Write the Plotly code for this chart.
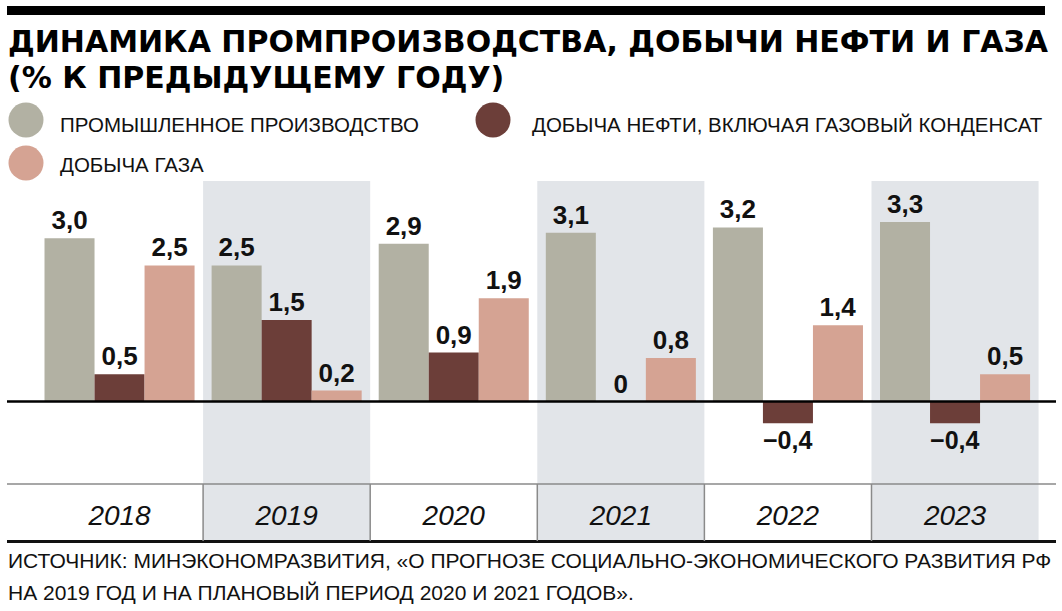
import plotly.graph_objects as go

# ---- data ----
years = ["2018", "2019", "2020", "2021", "2022", "2023"]
industry = [3.0, 2.5, 2.9, 3.1, 3.2, 3.3]
oil = [0.5, 1.5, 0.9, 0.0, -0.4, -0.4]
gas = [2.5, 0.2, 1.9, 0.8, 1.4, 0.5]
series_names = ["ПРОМЫШЛЕННОЕ ПРОИЗВОДСТВО",
                "ДОБЫЧА НЕФТИ, ВКЛЮЧАЯ ГАЗОВЫЙ КОНДЕНСАТ",
                "ДОБЫЧА ГАЗА"]
title_lines = ["ДИНАМИКА ПРОМПРОИЗВОДСТВА, ДОБЫЧИ НЕФТИ И ГАЗА",
               "(% К ПРЕДЫДУЩЕМУ ГОДУ)"]
source_lines = ["ИСТОЧНИК: МИНЭКОНОМРАЗВИТИЯ, «О ПРОГНОЗЕ СОЦИАЛЬНО-ЭКОНОМИЧЕСКОГО РАЗВИТИЯ РФ",
                "НА 2019 ГОД И НА ПЛАНОВЫЙ ПЕРИОД 2020 И 2021 ГОДОВ»."]
shaded_years = ["2019", "2021", "2023"]

# ---- style ----
W, H = 1062, 611
colors = ["#b2b1a3", "#6c3e39", "#d5a393"]
shade = "#e2e5e9"
ink = "#111111"
label_font = dict(family="Liberation Sans, Arial, sans-serif", size=26, color=ink, weight="bold")


def fmt(v):
    if v == 0:
        return "0"
    s = f"{abs(v):.1f}".replace(".", ",")
    return ("\u2212" + s) if v < 0 else s


def px_x(p):
    return p / W


def px_y(p):
    return 1 - p / H


fig = go.Figure()
for name, vals, col in zip(series_names, [industry, oil, gas], colors):
    fig.add_trace(go.Bar(
        x=years, y=vals, name=name, marker=dict(color=col, line=dict(width=0)),
        text=[fmt(v) for v in vals], textposition="outside", textfont=label_font,
        cliponaxis=False, showlegend=False, hoverinfo="skip",
    ))

# year labels inside the bottom band
YEAR_LABEL_Y = -2.15
fig.add_trace(go.Scatter(
    x=years, y=[YEAR_LABEL_Y] * len(years), mode="text", text=years,
    textfont=dict(family="Liberation Sans, Arial, sans-serif", size=28, color=ink, style="italic"),
    showlegend=False, hoverinfo="skip", cliponaxis=False,
))

shapes = []
# shaded columns
for y in shaded_years:
    i = years.index(y)
    shapes.append(dict(type="rect", xref="x", yref="paper", x0=i - 0.5, x1=i + 0.5,
                       y0=px_y(541), y1=px_y(181), fillcolor=shade, line_width=0, layer="below"))
# top black bar
shapes.append(dict(type="rect", xref="paper", yref="paper", x0=px_x(7), x1=px_x(1045),
                   y0=px_y(15), y1=px_y(6), fillcolor="#000000", line_width=0))
# zero line
shapes.append(dict(type="line", xref="paper", yref="y", x0=px_x(7), x1=px_x(1056), y0=0, y1=0,
                   line=dict(color="#000000", width=2.5)))
# thin line above year band
shapes.append(dict(type="line", xref="paper", yref="paper", x0=px_x(7), x1=px_x(1056),
                   y0=px_y(484), y1=px_y(484), line=dict(color="#8a8a8a", width=1.5)))
# thick bottom line
shapes.append(dict(type="line", xref="paper", yref="paper", x0=px_x(7), x1=px_x(1056),
                   y0=px_y(541.5), y1=px_y(541.5), line=dict(color="#111111", width=3)))
# separators in year band
for i in range(len(years) - 1):
    shapes.append(dict(type="line", xref="x", yref="paper", x0=i + 0.5, x1=i + 0.5,
                       y0=px_y(541), y1=px_y(484), line=dict(color="#8a8a8a", width=1.5)))

# custom legend (circles + text)
legend_pos = [(26, 120, 58, 124), (493, 120, 530, 124), (26, 163, 58, 165)]
annotations = []
for (cx, cy, tx, ty), name, col in zip(legend_pos, series_names, colors):
    shapes.append(dict(type="circle", xref="paper", yref="paper", xsizemode="pixel", ysizemode="pixel",
                       xanchor=px_x(cx), yanchor=px_y(cy), x0=-17.5, x1=17.5, y0=-17.5, y1=17.5,
                       fillcolor=col, line_width=0))
    annotations.append(dict(xref="paper", yref="paper", x=px_x(tx), y=px_y(ty), xanchor="left",
                            yanchor="middle", showarrow=False, text=name,
                            font=dict(family="Liberation Sans, Arial, sans-serif", size=20.5, color=ink)))

# title
for txt, yy in zip(title_lines, [41, 77]):
    annotations.append(dict(xref="paper", yref="paper", x=px_x(6), y=px_y(yy), xanchor="left",
                            yanchor="middle", showarrow=False, text=txt,
                            font=dict(family="DejaVu Sans", size=30, color="#000000", weight="bold")))
# source
for txt, yy in zip(source_lines, [560, 592]):
    annotations.append(dict(xref="paper", yref="paper", x=px_x(6), y=px_y(yy), xanchor="left",
                            yanchor="middle", showarrow=False, text=txt,
                            font=dict(family="Liberation Sans, Arial, sans-serif", size=21, color=ink)))

fig.update_layout(
    width=W, height=H, margin=dict(l=0, r=0, t=0, b=0),
    paper_bgcolor="white", plot_bgcolor="rgba(0,0,0,0)",
    barmode="group", bargap=0.102, bargroupgap=0,
    showlegend=False, shapes=shapes, annotations=annotations,
    xaxis=dict(domain=[px_x(7), px_x(1056)], range=[-0.6735, 5.6042], type="category",
               showgrid=False, zeroline=False, showticklabels=False, ticks="", showline=False),
    yaxis=dict(domain=[px_y(541), px_y(181)], range=[-2.564, 4.053],
               showgrid=False, zeroline=False, showticklabels=False, ticks="", showline=False),
)

fig.write_html("out.html", config={"displayModeBar": False},
               post_script="document.body.style.margin='0';")
